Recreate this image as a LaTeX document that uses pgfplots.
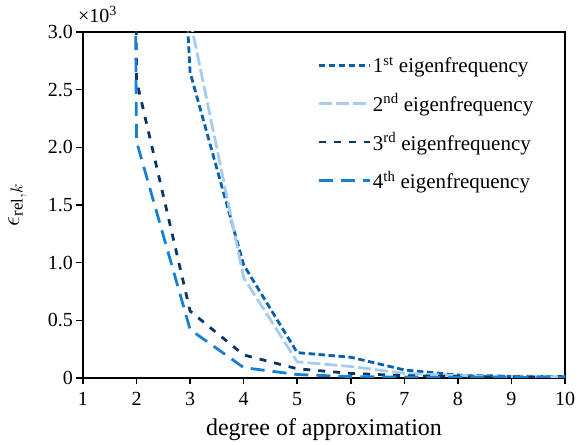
\documentclass[border=0pt]{standalone}
\usepackage{fontspec}
\setmainfont{Liberation Serif}
\usepackage{pgfplots}
\pgfplotsset{compat=1.18}
\definecolor{cA}{RGB}{8,96,172}
\definecolor{cB}{RGB}{166,204,238}
\definecolor{cC}{RGB}{12,54,98}
\definecolor{cD}{RGB}{24,128,212}
\begin{document}
\begin{tikzpicture}
\begin{axis}[
  name=ax,
  scale only axis,
  width=482pt, height=346pt,
  xmin=1, xmax=10, ymin=0, ymax=3,
  xtick={1,2,...,10},
  ytick={0,0.5,1,1.5,2,2.5,3},
  yticklabels={0,0.5,1.0,1.5,2.0,2.5,3.0},
  scaled y ticks=false,
  /pgf/number format/assume math mode=true,
  tick align=outside,
  xtick pos=bottom, ytick pos=left,
  major tick length=6.5pt,
  every tick/.style={black, line width=1.5pt},
  axis line style={line width=1.8pt},
  ticklabel style={font=\fontsize{20}{22}\selectfont},
  xticklabel style={yshift=-4pt},
  xlabel={degree of approximation},
  ylabel={$\epsilon_{\mathrm{rel},k}$},
  label style={font=\fontsize{24}{26}\selectfont},
  xlabel style={yshift=-6pt},
  ylabel style={yshift=15pt},
  legend style={draw=none, fill=none, at={(0.945,0.94)}, anchor=north east,
    font=\fontsize{21}{23}\selectfont, row sep=15.5pt},
  legend cell align=left,
  legend image code/.code={\draw[#1] (0pt,0pt) -- (35pt,0pt); \path (0pt,0pt) -- (51pt,0pt);},
  clip=true,
]
\addplot[cA, line width=2.8pt, dash pattern=on 6.5pt off 3.5pt] coordinates {
 (1,60) (2,11.4) (3,2.65) (4,0.98) (5,0.22) (6,0.18) (7,0.07) (8,0.025) (9,0.015) (10,0.012)};
\addlegendentry{1\textsuperscript{st} eigenfrequency}
\addplot[cB, line width=2.8pt, dash pattern=on 13pt off 4pt] coordinates {
 (1,60) (2,30) (3,3.11) (4,0.87) (5,0.14) (6,0.10) (7,0.04) (8,0.02) (9,0.012) (10,0.01)};
\addlegendentry{2\textsuperscript{nd} eigenfrequency}
\addplot[cC, line width=2.8pt, dash pattern=on 7pt off 8pt] coordinates {
 (1,60) (2,2.58) (3,0.58) (4,0.20) (5,0.08) (6,0.04) (7,0.02) (8,0.012) (9,0.01) (10,0.008)};
\addlegendentry{3\textsuperscript{rd} eigenfrequency}
\addplot[cD, line width=2.8pt, dash pattern=on 14pt off 8pt] coordinates {
 (1,60) (2,2.05) (3,0.42) (4,0.09) (5,0.03) (6,0.012) (7,0.008) (8,0.006) (9,0.005) (10,0.004)};
\addlegendentry{4\textsuperscript{th} eigenfrequency}
\end{axis}
\node[anchor=base west, font=\fontsize{20}{22}\selectfont, inner sep=0pt] at ([xshift=-5pt,yshift=9pt]ax.north west) {×10\textsuperscript{3}};
\pgfresetboundingbox
\path (ax.south west) ++(-83pt,-67pt) (ax.north east) ++(15pt,32pt);
\end{tikzpicture}
\end{document}
